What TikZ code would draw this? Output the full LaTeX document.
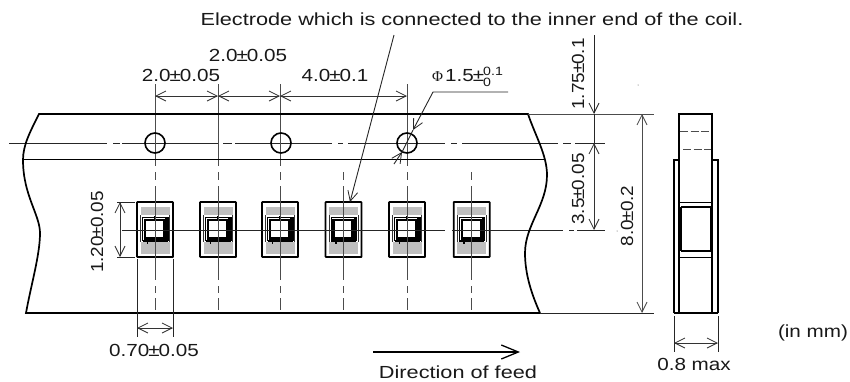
\documentclass[tikz,border=0pt]{standalone}
\usepackage{fontspec}
\setmainfont{Liberation Sans}
\newfontfamily\phifont{Liberation Serif}
\newfontfamily\lblfont[FakeStretch=1.18]{Liberation Sans}
\newfontfamily\widefont[FakeStretch=1.24]{Liberation Sans}
\newfontfamily\rotfont[FakeStretch=1.08]{Liberation Sans}
\usetikzlibrary{arrows.meta}
\newcommand{\pmk}{\kern-0.9pt±\kern-1.1pt}
\tikzset{
  x=1pt,y=-1pt,
  thinln/.style={line width=0.9pt,draw=black!85},
  greyln/.style={line width=1pt,draw=black!70},
  boldln/.style={line width=1.7pt,draw=black},
  dimarrow/.style={line width=0.8pt,draw=black!80,{Straight Barb[length=10pt,width=10pt,line width=0.8pt]}-{Straight Barb[length=10pt,width=10pt,line width=0.8pt]}},
  endarrow/.style={line width=0.9pt,draw=black!85,-{Straight Barb[length=10pt,width=10pt,line width=0.8pt]}},
  lbl/.style={inner sep=0pt,font=\lblfont\fontsize{17.5}{19}\selectfont,text=black!90},
  rotlbl/.style={inner sep=0pt,rotate=90,font=\rotfont\fontsize{17.5}{19}\selectfont,text=black!90},
  lblwide/.style={inner sep=0pt,font=\widefont\fontsize{17.5}{19}\selectfont,text=black!90},
  padfill/.style={fill=black!25,draw=none},
  chip/.pic={
    \fill[padfill] (-14.5,5) rectangle (14.5,13);
    \fill[padfill] (-14.5,40) rectangle (14.5,52);
    \draw[line width=0.8pt,black!80] (-14.5,13) -- (-14.5,40) (14.5,13) -- (14.5,40);
    \draw[line width=0.9pt,black] (-12.5,15) -- (13,15) -- (13,38.5) (-12.5,15) -- (-12.5,38.5);
    \draw[line width=2.3pt,black] (-10,18) rectangle (9,36.5);
    \draw[line width=2.4pt,black] (-12.5,38.8) -- (11.5,38.8) -- (11.5,16);
    \draw[line width=1.6pt,black] (-7.5,38.8) -- (-7.5,42);
    \draw[line width=1.5pt,black] (0,14) -- (0,18);
    \draw[line width=1.9pt,black,rounded corners=0.6pt] (-18,0) rectangle (18,55);
  }
}
\begin{document}
\begin{tikzpicture}
\useasboundingbox (0,0) rectangle (850,381);
\fill[white] (0,0) rectangle (850,381);

% holes and pitch coordinates
\coordinate (h1) at (155,143);
\coordinate (h2) at (281,143);
\coordinate (h3) at (407,143);
\coordinate (phitip1) at (413,130);
\coordinate (phitip2) at (402,152);
\coordinate (phitail) at (394,164);
\coordinate (phiknee) at (433,92);
\coordinate (phiend) at (508,92);

% components
\foreach \cx in {155,218,280,343.5,407,471.7}
  \path (\cx,202) pic {chip};

% centre lines
\draw[thinln] (9,143) -- (107,143) (113,143) -- (120,143) (122,143) -- (218,143)
  (223,143) -- (232,143) (235,143) -- (332,143) (338,143) -- (343,143) (348,143) -- (445,143)
  (451,143) -- (457,143) (462,143) -- (558,143) (563,143) -- (571,143) (575,143) -- (605,143);
\draw[thinln] (122,230) -- (445,230) (452,230) -- (563,230) (569,230) -- (574,230) (577,230) -- (605,230);

% vertical centre lines
\foreach \vx in {155,218,280,407}
  \draw[greyln] (\vx,84) -- (\vx,166) (\vx,172) -- (\vx,180);
\foreach \vx in {155,218,280,343.5,407,471.7}
  \draw[greyln] (\vx,186) -- (\vx,280) (\vx,286) -- (\vx,293) (\vx,298) -- (\vx,310);
\draw[greyln] (343.5,172) -- (343.5,180);
\draw[greyln] (471.7,172) -- (471.7,180);

% tape outline
\draw[boldln] (540,313) -- (26,313)
  .. controls (31,285) and (40,255) .. (40,233)
  .. controls (40,215) and (23,195) .. (23,160)
  .. controls (23,145) and (30,132) .. (39,114)
  -- (528,114)
  .. controls (535,135) and (547,155) .. (547,175)
  .. controls (547,205) and (525,225) .. (525,253)
  .. controls (525,275) and (532,295) .. (540,313);
\draw[line width=0.9pt,black] (23,159) -- (545,159);

% holes
\foreach \hh in {h1,h2,h3}
  \draw[line width=1.6pt,black] (\hh) circle[radius=10];

% pitch dimensions
\draw[dimarrow] (155,96) -- (218,96);
\draw[dimarrow] (218,96) -- (280,96);
\draw[dimarrow] (280,96) -- (407,96);

% hole diameter leader
\draw[endarrow] (phiend) -- (phiknee) -- (phitip1);
\draw[endarrow] (phitail) -- (phitip2);
\draw[thinln] (phitip1) -- (phitip2);

% electrode leader
\coordinate (eltop) at (394,35);
\coordinate (eltip) at (350,202);
\draw[endarrow] (eltop) -- (eltip);

% right extension lines and dimensions
\draw[greyln] (528,114) -- (654,114);
\draw[thinln] (540,313) -- (654,313);
\draw[endarrow] (594,35) -- (594,114);
\draw[dimarrow,line width=0.9pt] (594,143) -- (594,230);
\draw[thinln] (594,114) -- (594,143);
\draw[dimarrow,draw=black!70] (642,114) -- (642,313);
\fill[black!70] (638,85) circle[radius=0.5] (617,231) circle[radius=0.5];

% chip dims
\draw[thinln] (117,202) -- (135,202) (117,257) -- (135,257);
\draw[dimarrow] (120,202) -- (120,257);
\draw[thinln] (137,259) -- (137,337) (173,259) -- (173,337);
\draw[dimarrow] (137,328) -- (173,328);

% feed arrow
\coordinate (feedA) at (373,352);
\coordinate (feedB) at (520,352);
\draw[line width=1.5pt,-{Straight Barb[length=17pt,width=14pt,line width=1.3pt]}] (feedA) -- (feedB);

% side view
\draw[line width=1.3pt] (674,313) -- (674,160) -- (679,160);
\draw[line width=1.3pt] (718,313) -- (718,160) -- (712,160);
\draw[boldln] (679,313) -- (679,114) -- (712,114) -- (712,313);
\draw[line width=1.3pt] (674,313) -- (718,313);
\draw[greyln,dash pattern=on 8pt off 2.5pt] (680,131) -- (711,131);
\draw[greyln,dash pattern=on 8pt off 2.5pt] (683,149) -- (711,149);
\draw[line width=0.9pt] (679,202) -- (712,202) (679,257) -- (712,257);
\draw[line width=1.3pt] (681,207) -- (711,207) (681,251) -- (711,251);
\draw[line width=2pt] (681,207) -- (681,251) (711,207) -- (711,251);
\draw[thinln] (674,316) -- (674,352) (718,316) -- (718,352);
\draw[dimarrow] (674,343) -- (718,343);

% labels
\node[lblwide] (elec) at (472,19) {Electrode which is connected to the inner end of the coil.};
\node[lbl] (d1) at (181,75) {2.0\pmk 0.05};
\node[lbl] (d2) at (248,55) {2.0\pmk 0.05};
\node[lbl] (d3) at (335,75) {4.0\pmk 0.1};
\node[lbl,anchor=west] (phi) at (432,77) {{\phifont\fontsize{15}{15}\selectfont Φ}\kern2pt 1.5\pmk\rlap{\raisebox{6pt}{\fontsize{12}{12}\selectfont 0.1}}\raisebox{-5pt}{\fontsize{12}{12}\selectfont 0}};
\node[rotlbl] (d175) at (578,74) {1.75\pmk 0.1};
\node[rotlbl] (d35) at (578,189) {3.5\pmk 0.05};
\node[rotlbl] (d80) at (627,216) {8.0\pmk 0.2};
\node[rotlbl] (d120) at (97,232) {1.20\pmk 0.05};
\node[lbl] (d070) at (154,350) {0.70\pmk 0.05};
\node[lblwide] (feed) at (458,372.5) {Direction of feed};
\node[lbl] (max) at (694,364) {0.8 max};
\node[lbl] (mm) at (813,333) {(in mm)};
\end{tikzpicture}
\end{document}
